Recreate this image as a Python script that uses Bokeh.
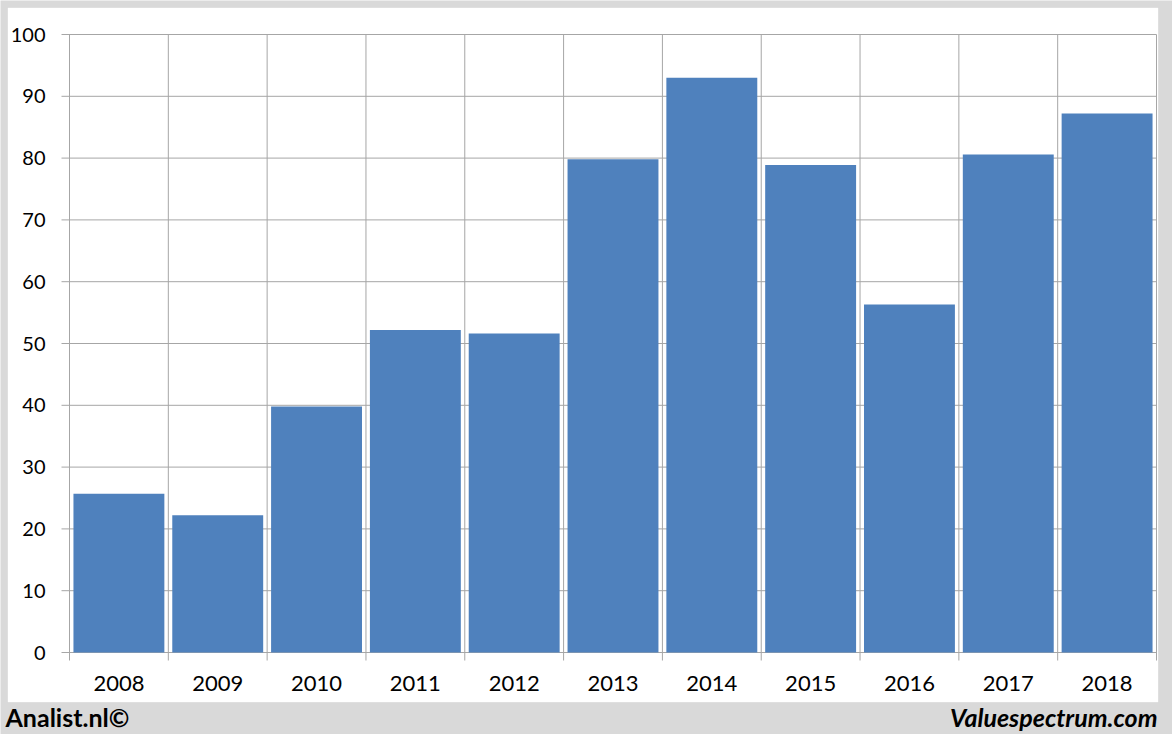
from bokeh.plotting import figure
from bokeh.models import Range1d, Label, BoxAnnotation
from bokeh.core.properties import value
from bokeh.embed import file_html
from bokeh.resources import INLINE

# ---- data ----
years = ["2008", "2009", "2010", "2011", "2012", "2013", "2014", "2015", "2016", "2017", "2018"]
values = [25.7, 22.2, 39.8, 52.2, 51.6, 79.8, 93.0, 78.9, 56.3, 80.6, 87.2]
y_ticks = [0, 10, 20, 30, 40, 50, 60, 70, 80, 90, 100]
y_labels = [str(t) for t in y_ticks]

# ---- style / layout constants ----
GRID = "#A6A6A6"
BAR = "#4F81BD"
BG = "#D9D9D9"
FONT = "Lato"
W, H = 1172, 734
PL, PR, PT, PB = 69, 1156, 34, 652      # plot area in canvas pixels
TICK = 8

n = len(years)
xs = list(range(1, n + 1))
bounds = [i + 0.5 for i in range(0, n + 1)]
x_lo, x_hi = 0.5, n + 0.5
y_lo, y_hi = 0, 100
kx = (PR - PL) / (x_hi - x_lo)          # px per x unit
ky = (PB - PT) / (y_hi - y_lo)          # px per y unit

p = figure(width=W, height=H, output_backend="svg", toolbar_location=None,
           x_axis_type=None, y_axis_type=None, min_border=0,
           x_range=Range1d(x_lo - PL / kx, x_hi + (W - PR) / kx),
           y_range=Range1d(y_lo - (H - PB) / ky, y_hi + PT / ky))
p.background_fill_color = BG
p.border_fill_color = BG
p.outline_line_color = None

# white chart panel
p.add_layout(BoxAnnotation(left=7, right=1158, top=7, bottom=702,
                           left_units="canvas", right_units="canvas",
                           top_units="canvas", bottom_units="canvas",
                           fill_color="white", fill_alpha=1.0,
                           line_color="#BFBFBF", line_width=1, level="image"))

# grid lines (with their outward tick extensions)
p.segment(x0=bounds, y0=[y_lo - TICK / ky] * len(bounds), x1=bounds, y1=[y_hi] * len(bounds),
          line_color=GRID, line_width=1)
p.segment(x0=[x_lo - TICK / kx] * len(y_ticks), y0=y_ticks, x1=[x_hi] * len(y_ticks), y1=y_ticks,
          line_color=GRID, line_width=1)

# bars
p.vbar(x=xs, top=values, width=0.92, bottom=0, fill_color=BAR, line_color=None)

# y tick labels
p.text(x=[x_lo - 24 / kx] * len(y_ticks), y=y_ticks, text=y_labels,
       text_font=value(FONT), text_font_size="20px", text_color="#000000",
       text_align="right", text_baseline="middle")

# x tick labels
p.text(x=xs, y=[y_lo - 31 / ky] * n, text=years,
       text_font=value(FONT), text_font_size="22px", text_color="#000000",
       text_align="center", text_baseline="middle")

# footer texts
p.add_layout(Label(x=5, y=716, x_units="canvas", y_units="canvas", text="Analist.nl©",
                   text_font=FONT, text_font_style="bold", text_font_size="25px",
                   text_color="#000000", text_baseline="middle"))
p.add_layout(Label(x=1157, y=716, x_units="canvas", y_units="canvas", text="Valuespectrum.com",
                   text_font=FONT, text_font_style="bold italic", text_font_size="25px",
                   text_color="#000000", text_align="right", text_baseline="middle"))

open("out.html", "w").write(file_html(p, INLINE))
